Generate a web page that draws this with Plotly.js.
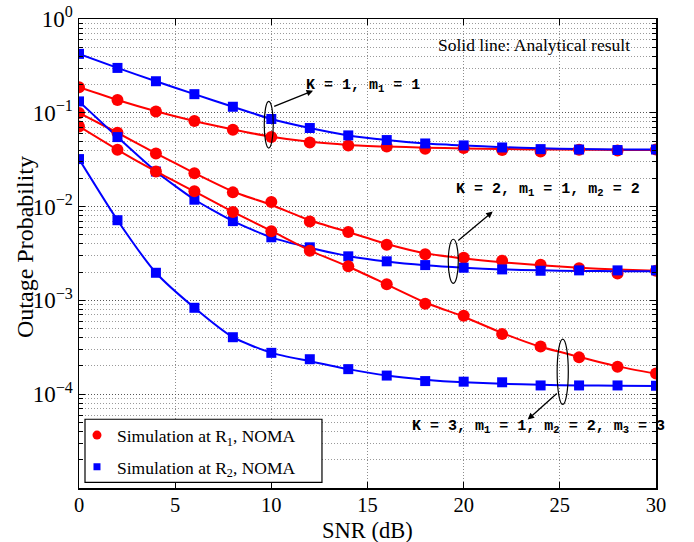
<!DOCTYPE html>
<html>
<head>
<meta charset="utf-8">
<script src="https://cdn.plot.ly/plotly-3.0.1.min.js"></script>
<style>
  html, body { margin: 0; padding: 0; background: #fff; }
  #chart { width: 694px; height: 542px; }
</style>
</head>
<body>
<div id="chart"></div>
<script>
// SNR grid (dB)
const snr = [0, 2, 4, 6, 8, 10, 12, 14, 16, 18, 20, 22, 24, 26, 28, 30];

// Monte-Carlo outage probability at R1 / R2 for K = 1, 2, 3
const simR1K1 = [0.187, 0.137, 0.1035, 0.0817, 0.0660, 0.0551, 0.0483, 0.0449, 0.0438, 0.0413, 0.0421, 0.0401, 0.0387, 0.0403, 0.0397, 0.0406];
const simR2K1 = [0.425, 0.301, 0.217, 0.158, 0.116, 0.0859, 0.0688, 0.0574, 0.0512, 0.0471, 0.0449, 0.0427, 0.0410, 0.0406, 0.0401, 0.0406];
const simR1K2 = [0.0995, 0.0613, 0.0368, 0.02263, 0.01418, 0.01122, 0.00695, 0.00537, 0.00393, 0.00310, 0.00285, 0.00265, 0.00240, 0.00220, 0.00194, 0.00207];
const simR2K2 = [0.1323, 0.0551, 0.02365, 0.01185, 0.00700, 0.00471, 0.00368, 0.00295, 0.00261, 0.00238, 0.00223, 0.00214, 0.00207, 0.00209, 0.00209, 0.00209];
const simR1K3 = [0.0716, 0.0403, 0.02365, 0.01454, 0.00878, 0.00546, 0.00339, 0.00231, 0.00149, 0.000920, 0.000685, 0.000437, 0.000323, 0.000247, 0.000196, 0.000166];
const simR2K3 = [0.0321, 0.00716, 0.00197, 0.000834, 0.000405, 0.000276, 0.000236, 0.000185, 0.000158, 0.000138, 0.000136, 0.000134, 0.000124, 0.000124, 0.000124, 0.000123];

// Closed-form (analytical) outage probability on the same grid
const anaR1K1 = [0.187, 0.137, 0.104, 0.0817, 0.0665, 0.0555, 0.0490, 0.0455, 0.0437, 0.0425, 0.0417, 0.0411, 0.0407, 0.0404, 0.0402, 0.0401];
const anaR2K1 = [0.425, 0.301, 0.217, 0.158, 0.116, 0.0859, 0.0688, 0.0574, 0.0512, 0.0471, 0.0449, 0.0430, 0.0418, 0.0411, 0.0407, 0.0405];
const anaR1K2 = [0.0995, 0.0613, 0.0370, 0.0228, 0.0145, 0.0104, 0.00715, 0.00535, 0.00400, 0.00318, 0.00280, 0.00255, 0.00237, 0.00223, 0.00213, 0.00207];
const anaR2K2 = [0.1323, 0.0551, 0.0237, 0.0119, 0.00700, 0.00470, 0.00365, 0.00298, 0.00260, 0.00237, 0.00223, 0.00214, 0.00209, 0.00206, 0.00205, 0.00204];
const anaR1K3 = [0.0716, 0.0403, 0.0237, 0.0145, 0.0088, 0.0055, 0.0034, 0.00230, 0.00148, 0.00095, 0.00067, 0.00045, 0.00032, 0.00025, 0.000198, 0.000165];
const anaR2K3 = [0.0321, 0.00716, 0.00197, 0.000834, 0.000405, 0.000276, 0.000225, 0.000185, 0.000158, 0.000143, 0.000134, 0.000129, 0.000126, 0.000124, 0.000123, 0.000122];

// Axis ticks
const xTickVals = [0, 5, 10, 15, 20, 25, 30];
const yTickVals = [1, 0.1, 0.01, 0.001, 0.0001];
const yTickText = ['10<sup>0</sup>', '10<sup>\u22121</sup>', '10<sup>\u22122</sup>', '10<sup>\u22123</sup>', '10<sup>\u22124</sup>'];

const legendR1 = 'Simulation at R<sub>1</sub>, NOMA';
const legendR2 = 'Simulation at R<sub>2</sub>, NOMA';

const RED = '#ff0000';
const BLUE = '#0000ff';
const serif = '"Liberation Serif", "Times New Roman", serif';
const mono = '"Liberation Mono", "Courier New", monospace';
const GRIDDOT = '1px,2px';

// minor decade ticks 2..9 x 10^e
const minorVals = [];
for (let e = -5; e < 0; e++) {
  for (let m = 2; m <= 9; m++) minorVals.push(m * Math.pow(10, e));
}

function lineTrace(y, color) {
  return { x: snr, y: y, mode: 'lines', type: 'scatter',
           line: { color: color, width: 2, shape: 'spline', smoothing: 0.6 },
           showlegend: false, hoverinfo: 'skip' };
}
function simTrace(y, color, symbol, size) {
  return { x: snr, y: y, mode: 'markers', type: 'scatter',
           marker: { color: color, symbol: symbol, size: size },
           showlegend: false };
}
// legend-only entries (smaller symbols, no data)
function keyTrace(name, color, symbol, size) {
  return { x: [null], y: [null], mode: 'markers', type: 'scatter', name: name,
           marker: { color: color, symbol: symbol, size: size },
           showlegend: true, legendgroup: name };
}

const traces = [
  lineTrace(anaR1K1, RED), lineTrace(anaR2K1, BLUE),
  lineTrace(anaR1K2, RED), lineTrace(anaR2K2, BLUE),
  lineTrace(anaR1K3, RED), lineTrace(anaR2K3, BLUE),
  simTrace(simR1K1, RED, 'circle', 12),
  simTrace(simR2K1, BLUE, 'square', 10),
  simTrace(simR1K2, RED, 'circle', 12),
  simTrace(simR2K2, BLUE, 'square', 10),
  simTrace(simR1K3, RED, 'circle', 12),
  simTrace(simR2K3, BLUE, 'square', 10),
  keyTrace(legendR1, RED, 'circle', 9),
  keyTrace(legendR2, BLUE, 'square', 7)
];

// ellipses grouping each curve pair
function ellipse(xc, hw, yTop, yBot) {
  return { type: 'circle', xref: 'x', yref: 'y',
           x0: xc - hw, x1: xc + hw, y0: yBot, y1: yTop,
           line: { color: '#000', width: 1.2 } };
}
// arrows: annotation coordinates on the log axis are log10 values
function arrow(tx, ty, hx, hy) {
  return { xref: 'x', yref: 'y', axref: 'x', ayref: 'y',
           x: hx, y: hy, ax: tx, ay: ty, text: '', showarrow: true,
           arrowhead: 2, arrowsize: 1, arrowwidth: 1.3, arrowcolor: '#000',
           standoff: 0, startstandoff: 0 };
}
function label(x, y, text) {
  return { xref: 'x', yref: 'y', x: x, y: y, text: text, showarrow: false,
           font: { family: mono, size: 15, color: '#000', weight: 'bold' } };
}

const layout = {
  width: 694, height: 542,
  margin: { l: 79, r: 38, t: 19, b: 54, pad: 0 },
  paper_bgcolor: '#fff', plot_bgcolor: '#fff',
  font: { family: serif, color: '#000', size: 20 },
  showlegend: true,
  xaxis: {
    range: [0, 30], tickvals: xTickVals, ticks: 'inside', ticklen: 6, tickwidth: 1,
    tickcolor: '#000', showline: true, linecolor: '#000', linewidth: 1.5, mirror: 'ticks',
    showgrid: true, gridcolor: '#8c8c8c', griddash: GRIDDOT, gridwidth: 1, zeroline: false,
    tickfont: { family: serif, size: 20.5 }, ticklabelstandoff: -2
  },
  yaxis: {
    type: 'log', range: [-5, 0], tickvals: yTickVals, ticktext: yTickText,
    ticks: 'inside', ticklen: 6, tickwidth: 1, tickcolor: '#000',
    showline: true, linecolor: '#000', linewidth: 1.5, mirror: 'ticks',
    showgrid: true, gridcolor: '#555', griddash: GRIDDOT, gridwidth: 1, zeroline: false,
    tickfont: { family: serif, size: 23 },
    minor: { tickvals: minorVals, ticks: 'inside', ticklen: 4, tickcolor: '#000',
             showgrid: true, gridcolor: '#9a9a9a', griddash: GRIDDOT, gridwidth: 1 }
  },
  legend: {
    x: -0.0035, y: 0.006, xanchor: 'left', yanchor: 'bottom',
    bgcolor: 'rgba(0,0,0,0)', borderwidth: 0,
    font: { family: serif, size: 17.5, color: '#000' },
    tracegroupgap: 6, itemsizing: 'trace'
  },
  shapes: [
    // legend frame
    { type: 'rect', xref: 'paper', yref: 'paper', x0: 0.0104, x1: 0.4211, y0: 0.012, y1: 0.1466,
      line: { color: '#000', width: 1.2 }, fillcolor: '#fff', layer: 'above' },
    ellipse(9.865, 0.234, 0.1324, 0.0421),
    ellipse(19.46, 0.26, 0.004487, 0.001521),
    ellipse(25.15, 0.29, 0.000386, 0.0000780)
  ],
  annotations: [
    { xref: 'paper', yref: 'paper', x: 0.5, y: -0.0905, yanchor: 'middle', text: 'SNR (dB)',
      borderpad: 0, showarrow: false, font: { family: serif, size: 22.5, color: '#000' } },
    { xref: 'paper', yref: 'paper', x: -0.0935, y: 0.514, xanchor: 'center', yanchor: 'middle',
      textangle: -90, text: 'Outage Probability',
      showarrow: false, font: { family: serif, size: 24, color: '#000' } },
    { xref: 'x', yref: 'y', x: 23.66, y: -0.272, text: 'Solid line: Analytical result',
      showarrow: false, font: { family: serif, size: 17.5, color: '#000' } },
    arrow(10.07, -0.938, 12.17, -0.764),
    label(14.77, -0.71, 'K = 1, m<sub>1</sub> = 1'),
    arrow(19.64, -2.374, 21.51, -2.053),
    label(24.36, -1.82, 'K = 2, m<sub>1</sub> = 1, m<sub>2</sub> = 2'),
    arrow(24.92, -3.977, 23.33, -4.271),
    label(23.87, -4.354, 'K = 3, m<sub>1</sub> = 1, m<sub>2</sub> = 2, m<sub>3</sub> = 3')
  ]
};

Plotly.newPlot('chart', traces, layout, { staticPlot: true, displayModeBar: false });
</script>
</body>
</html>
